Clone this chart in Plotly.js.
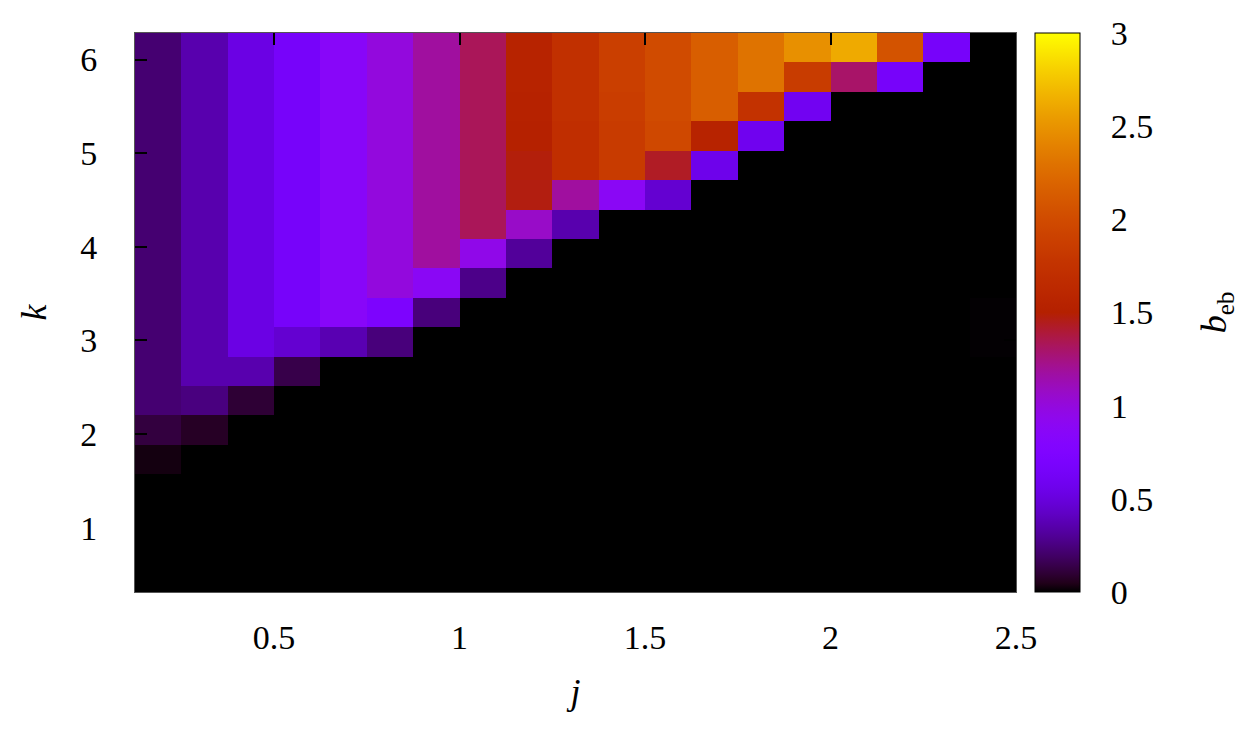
<!DOCTYPE html>
<html>
<head>
<meta charset="utf-8">
<script src="https://cdn.plot.ly/plotly-3.0.1.min.js"></script>
<style>
  html, body { margin: 0; padding: 0; background: #fff; }
  #chart { width: 1243px; height: 736px; }
</style>
</head>
<body>
<div id="chart"></div>
<script>
"use strict";

// cell edges along j and k (k in steps of pi/10)
var jEdges = [0.125, 0.25, 0.375, 0.5, 0.625, 0.75, 0.875, 1.0, 1.125, 1.25,
              1.375, 1.5, 1.625, 1.75, 1.875, 2.0, 2.125, 2.25, 2.375, 2.5];
var kEdges = [0.314, 0.628, 0.942, 1.257, 1.571, 1.885, 2.199, 2.513, 2.827, 3.142,
              3.456, 3.770, 4.084, 4.398, 4.712, 5.027, 5.341, 5.655, 5.969, 6.283];

// b_eb per row, top row (largest k) first, one value per j column
var bebTopDown = [
  [0.22, 0.36, 0.53, 0.66, 0.85, 1.00, 1.18, 1.33, 1.55, 1.72, 1.88, 2.00, 2.15, 2.30, 2.48, 2.62, 2.06, 0.66, 0],
  [0.22, 0.36, 0.53, 0.66, 0.85, 1.00, 1.18, 1.33, 1.55, 1.72, 1.88, 2.00, 2.15, 2.30, 1.85, 1.30, 0.66, 0, 0],
  [0.22, 0.36, 0.53, 0.66, 0.85, 1.00, 1.18, 1.33, 1.53, 1.72, 1.86, 2.00, 2.15, 1.75, 0.60, 0, 0, 0, 0],
  [0.22, 0.36, 0.53, 0.66, 0.85, 1.00, 1.18, 1.33, 1.51, 1.70, 1.84, 1.97, 1.55, 0.58, 0, 0, 0, 0, 0],
  [0.22, 0.36, 0.53, 0.66, 0.85, 1.00, 1.18, 1.33, 1.48, 1.70, 1.84, 1.43, 0.56, 0, 0, 0, 0, 0, 0],
  [0.22, 0.36, 0.53, 0.66, 0.85, 1.00, 1.18, 1.33, 1.47, 1.18, 0.88, 0.46, 0, 0, 0, 0, 0, 0, 0],
  [0.22, 0.36, 0.53, 0.66, 0.85, 1.00, 1.18, 1.33, 1.07, 0.36, 0, 0, 0, 0, 0, 0, 0, 0, 0],
  [0.22, 0.36, 0.53, 0.66, 0.85, 1.00, 1.18, 0.95, 0.31, 0, 0, 0, 0, 0, 0, 0, 0, 0, 0],
  [0.22, 0.36, 0.53, 0.66, 0.85, 1.00, 0.88, 0.27, 0, 0, 0, 0, 0, 0, 0, 0, 0, 0, 0],
  [0.22, 0.36, 0.53, 0.66, 0.85, 0.72, 0.24, 0, 0, 0, 0, 0, 0, 0, 0, 0, 0, 0, 0.005],
  [0.22, 0.36, 0.53, 0.46, 0.37, 0.24, 0, 0, 0, 0, 0, 0, 0, 0, 0, 0, 0, 0, 0.005],
  [0.22, 0.36, 0.36, 0.14, 0, 0, 0, 0, 0, 0, 0, 0, 0, 0, 0, 0, 0, 0, 0],
  [0.22, 0.25, 0.10, 0, 0, 0, 0, 0, 0, 0, 0, 0, 0, 0, 0, 0, 0, 0, 0],
  [0.12, 0.07, 0, 0, 0, 0, 0, 0, 0, 0, 0, 0, 0, 0, 0, 0, 0, 0, 0],
  [0.03, 0, 0, 0, 0, 0, 0, 0, 0, 0, 0, 0, 0, 0, 0, 0, 0, 0, 0],
  [0, 0, 0, 0, 0, 0, 0, 0, 0, 0, 0, 0, 0, 0, 0, 0, 0, 0, 0],
  [0, 0, 0, 0, 0, 0, 0, 0, 0, 0, 0, 0, 0, 0, 0, 0, 0, 0, 0],
  [0, 0, 0, 0, 0, 0, 0, 0, 0, 0, 0, 0, 0, 0, 0, 0, 0, 0, 0],
  [0, 0, 0, 0, 0, 0, 0, 0, 0, 0, 0, 0, 0, 0, 0, 0, 0, 0, 0]
];

var xTicks = [0.5, 1, 1.5, 2, 2.5];
var yTicks = [1, 2, 3, 4, 5, 6];
var cbTicks = [0, 0.5, 1, 1.5, 2, 2.5, 3];

// gnuplot default pm3d palette (rgbformulae 7,5,15)
function pm3dScale(n){
    var scale = [];
    for(var i = 0; i <= n; i++){
        var t = i / n;
        var r = Math.round(255 * Math.sqrt(t));
        var g = Math.round(255 * t * t * t);
        var b = Math.round(255 * Math.max(0, Math.sin(2 * Math.PI * t)));
        scale.push([t, "rgb(" + r + "," + g + "," + b + ")"]);
    }
    return scale;
}

var serif = "Liberation Serif";

var heat = {
    type: "heatmap",
    x: jEdges,
    y: kEdges,
    z: bebTopDown.slice().reverse(),
    zmin: 0,
    zmax: 3,
    colorscale: pm3dScale(64),
    showscale: true,
    hoverinfo: "x+y+z",
    colorbar: {
        x: 1.0216,
        xanchor: "left",
        y: 0.5,
        yanchor: "middle",
        len: 1,
        thickness: 45,
        thicknessmode: "pixels",
        outlinewidth: 1,
        outlinecolor: "#000",
        tickvals: cbTicks,
        // invisible tick only pushes the labels away from the bar
        ticks: "outside",
        ticklen: 24,
        tickcolor: "rgba(0,0,0,0)",
        tickfont: {family: serif, size: 34, color: "#000"},
        xpad: 0,
        ypad: 0
    }
};

var layout = {
    width: 1243,
    height: 736,
    margin: {l: 135, r: 227, t: 33, b: 144},
    paper_bgcolor: "#fff",
    plot_bgcolor: "#000",
    showlegend: false,
    xaxis: {
        range: [0.125, 2.5],
        tickvals: xTicks,
        ticktext: xTicks.map(String),
        ticks: "inside",
        ticklen: 12,
        tickwidth: 2,
        tickcolor: "#000",
        showline: true,
        linecolor: "#555",
        linewidth: 1,
        mirror: "ticks",
        showgrid: false,
        zeroline: false,
        ticklabelstandoff: 15,
        tickfont: {family: serif, size: 34, color: "#000"},
        title: {text: "<i>j</i>", font: {family: serif, size: 36, color: "#000"}, standoff: 24}
    },
    yaxis: {
        range: [0.314, 6.283],
        tickvals: yTicks,
        ticks: "inside",
        ticklen: 12,
        tickwidth: 2,
        tickcolor: "#000",
        showline: true,
        linecolor: "#555",
        linewidth: 1,
        mirror: "ticks",
        showgrid: false,
        zeroline: false,
        ticklabelstandoff: 30,
        tickfont: {family: serif, size: 34, color: "#000"},
        title: {text: "<i>k</i>", font: {family: serif, size: 36, color: "#000"}, standoff: 22}
    },
    annotations: [{
        text: "<i>b</i><sub>eb</sub>",
        xref: "paper",
        yref: "paper",
        x: 1.228,
        y: 0.5,
        xanchor: "center",
        yanchor: "middle",
        textangle: -90,
        showarrow: false,
        font: {family: serif, size: 36, color: "#000"}
    }]
};

Plotly.newPlot("chart", [heat], layout, {displayModeBar: false, staticPlot: true});
</script>
</body>
</html>
